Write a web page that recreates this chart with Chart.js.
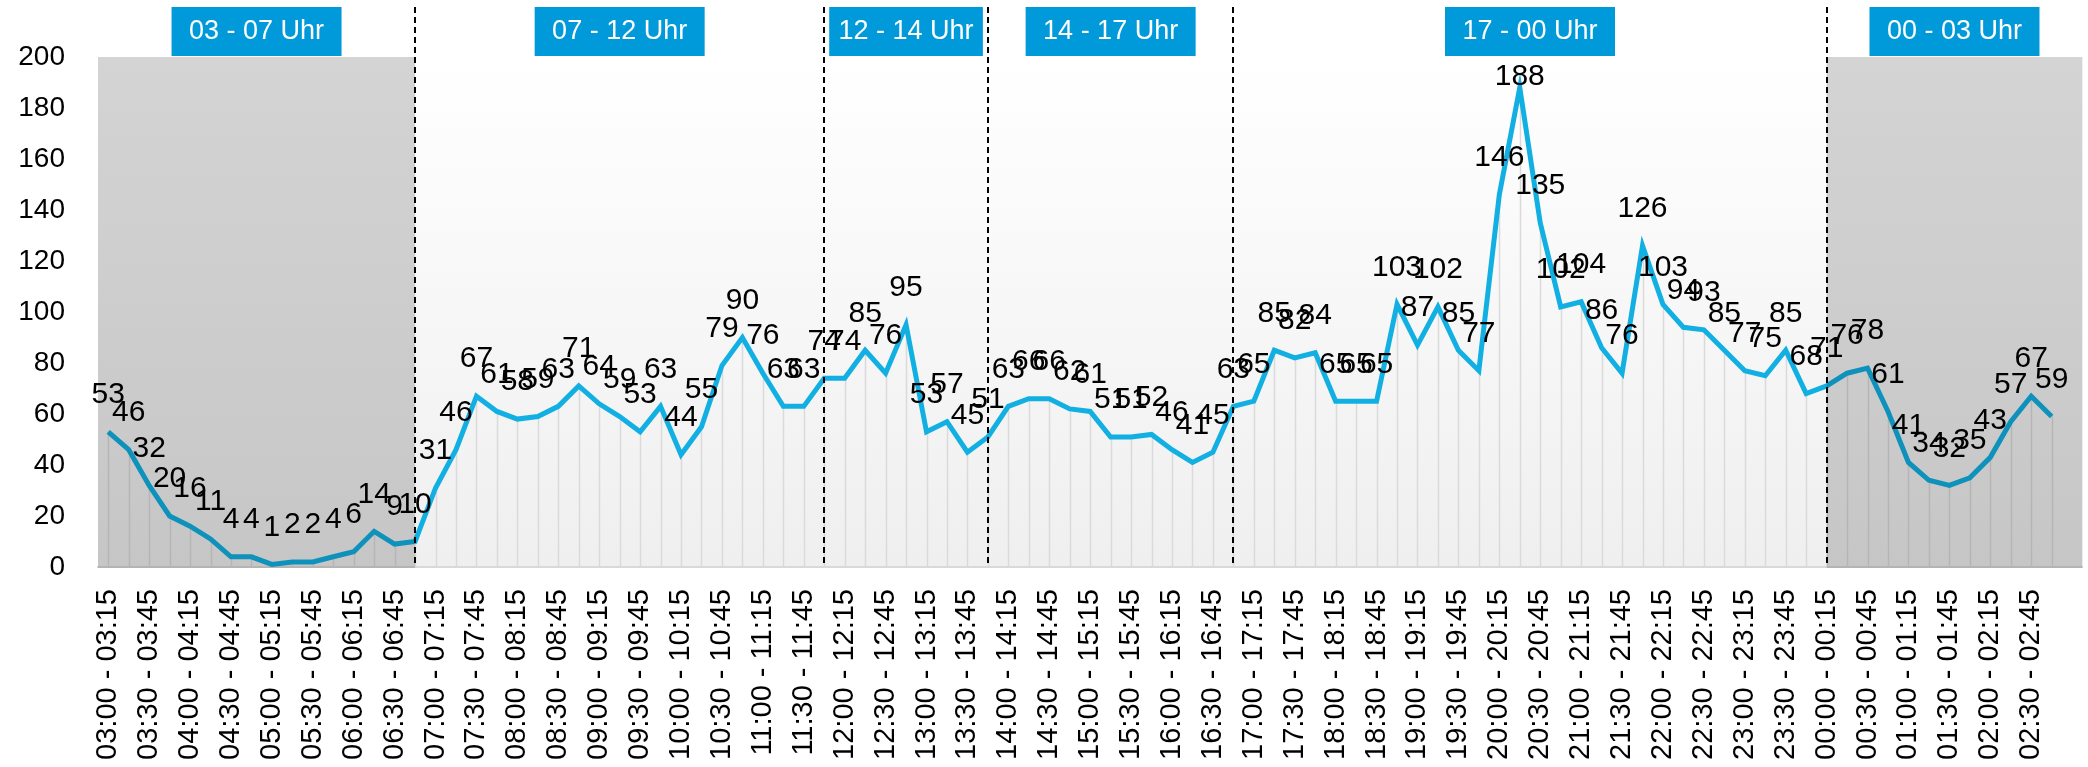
<!DOCTYPE html>
<html>
<head>
<meta charset="utf-8">
<script src="https://cdn.jsdelivr.net/npm/chart.js@4.4.1/dist/chart.umd.min.js"></script>
<style>
  html, body { margin: 0; padding: 0; background: #fff; }
  #wrap { width: 2088px; height: 767px; }
</style>
</head>
<body>
<div id="wrap"><canvas id="grafik" width="2088" height="767"></canvas></div>
<script>
// 15-Minuten-Intervalle von 03:00 bis 03:00
const zeitLabels = [
  "03:00 - 03:15", "03:15 - 03:30", "03:30 - 03:45", "03:45 - 04:00",
  "04:00 - 04:15", "04:15 - 04:30", "04:30 - 04:45", "04:45 - 05:00",
  "05:00 - 05:15", "05:15 - 05:30", "05:30 - 05:45", "05:45 - 06:00",
  "06:00 - 06:15", "06:15 - 06:30", "06:30 - 06:45", "06:45 - 07:00",
  "07:00 - 07:15", "07:15 - 07:30", "07:30 - 07:45", "07:45 - 08:00",
  "08:00 - 08:15", "08:15 - 08:30", "08:30 - 08:45", "08:45 - 09:00",
  "09:00 - 09:15", "09:15 - 09:30", "09:30 - 09:45", "09:45 - 10:00",
  "10:00 - 10:15", "10:15 - 10:30", "10:30 - 10:45", "10:45 - 11:00",
  "11:00 - 11:15", "11:15 - 11:30", "11:30 - 11:45", "11:45 - 12:00",
  "12:00 - 12:15", "12:15 - 12:30", "12:30 - 12:45", "12:45 - 13:00",
  "13:00 - 13:15", "13:15 - 13:30", "13:30 - 13:45", "13:45 - 14:00",
  "14:00 - 14:15", "14:15 - 14:30", "14:30 - 14:45", "14:45 - 15:00",
  "15:00 - 15:15", "15:15 - 15:30", "15:30 - 15:45", "15:45 - 16:00",
  "16:00 - 16:15", "16:15 - 16:30", "16:30 - 16:45", "16:45 - 17:00",
  "17:00 - 17:15", "17:15 - 17:30", "17:30 - 17:45", "17:45 - 18:00",
  "18:00 - 18:15", "18:15 - 18:30", "18:30 - 18:45", "18:45 - 19:00",
  "19:00 - 19:15", "19:15 - 19:30", "19:30 - 19:45", "19:45 - 20:00",
  "20:00 - 20:15", "20:15 - 20:30", "20:30 - 20:45", "20:45 - 21:00",
  "21:00 - 21:15", "21:15 - 21:30", "21:30 - 21:45", "21:45 - 22:00",
  "22:00 - 22:15", "22:15 - 22:30", "22:30 - 22:45", "22:45 - 23:00",
  "23:00 - 23:15", "23:15 - 23:30", "23:30 - 23:45", "23:45 - 00:00",
  "00:00 - 00:15", "00:15 - 00:30", "00:30 - 00:45", "00:45 - 01:00",
  "01:00 - 01:15", "01:15 - 01:30", "01:30 - 01:45", "01:45 - 02:00",
  "02:00 - 02:15", "02:15 - 02:30", "02:30 - 02:45", "02:45 - 03:00"
];

const werte = [
  53, 46, 32, 20, 16, 11, 4, 4, 1, 2, 2, 4, 6, 14, 9, 10,
  31, 46, 67, 61, 58, 59, 63, 71, 64, 59, 53, 63, 44, 55, 79, 90, 76, 63, 63, 74,
  74, 85, 76, 95, 53, 57, 45, 51,
  63, 66, 66, 62, 61, 51, 51, 52, 46, 41, 45, 63,
  65, 85, 82, 84, 65, 65, 65, 103, 87, 102, 85, 77, 146, 188, 135, 102, 104, 86,
  76, 126, 103, 94, 93, 85, 77, 75, 85, 68,
  71, 76, 78, 61, 41, 34, 32, 35, 43, 57, 67, 59
];

const zonenTitel = ["03 - 07 Uhr", "07 - 12 Uhr", "12 - 14 Uhr", "14 - 17 Uhr", "17 - 00 Uhr", "00 - 03 Uhr"];
const trennIndex = [15, 35, 43, 55, 84]; // gestrichelte Linien
const yTicks = [0, 20, 40, 60, 80, 100, 120, 140, 160, 180, 200];

const schrift = '"Liberation Sans", Arial, sans-serif';

const zonenPlugin = {
  id: 'zonen',
  beforeDraw(chart) {
    const { ctx, chartArea: a } = chart;
    const g = ctx.createLinearGradient(0, a.top, 0, a.bottom);
    g.addColorStop(0, '#ffffff');
    g.addColorStop(1, '#efefef');
    ctx.save();
    ctx.fillStyle = g;
    ctx.fillRect(a.left, a.top, a.right - a.left, a.bottom - a.top);
    ctx.restore();
  },
  beforeDatasetsDraw(chart) {
    // Lotlinien von jedem Punkt zur Achse
    const { ctx, chartArea: a } = chart;
    const meta = chart.getDatasetMeta(0);
    ctx.save();
    ctx.strokeStyle = '#dadada';
    ctx.lineWidth = 1.5;
    ctx.beginPath();
    meta.data.forEach(p => {
      ctx.moveTo(Math.round(p.x) + 0.5, p.y);
      ctx.lineTo(Math.round(p.x) + 0.5, a.bottom);
    });
    ctx.stroke();
    ctx.restore();
  },
  afterDatasetsDraw(chart) {
    const { ctx, chartArea: a, scales: { x } } = chart;
    const grenzen = [x.min, ...trennIndex, x.max];

    // graue Nachtbereiche
    ctx.save();
    ctx.fillStyle = 'rgba(0,0,0,0.17)';
    const x1 = x.getPixelForValue(trennIndex[0]);
    const x2 = x.getPixelForValue(trennIndex[trennIndex.length - 1]);
    ctx.fillRect(a.left, a.top, x1 - a.left, a.bottom - a.top + 1);
    ctx.fillRect(x2, a.top, a.right - x2, a.bottom - a.top + 1);

    // gestrichelte Trennlinien
    ctx.strokeStyle = '#000';
    ctx.lineWidth = 2;
    ctx.setLineDash([6, 4]);
    trennIndex.forEach(i => {
      const px = Math.round(x.getPixelForValue(i));
      ctx.beginPath();
      ctx.moveTo(px, 7);
      ctx.lineTo(px, a.bottom);
      ctx.stroke();
    });
    ctx.setLineDash([]);

    // Datenbeschriftungen
    const meta = chart.getDatasetMeta(0);
    ctx.fillStyle = '#000';
    ctx.font = '30px ' + schrift;
    ctx.textAlign = 'center';
    ctx.textBaseline = 'middle';
    meta.data.forEach((p, i) => {
      const ly = Math.max(p.y - 37, a.top + 20);
      ctx.fillText(String(werte[i]), p.x, ly);
    });

    // Überschriften der Zeitbereiche
    ctx.font = '27px ' + schrift;
    zonenTitel.forEach((t, i) => {
      const l = x.getPixelForValue(grenzen[i]);
      const r = x.getPixelForValue(grenzen[i + 1]);
      const w = Math.min(170, r - l - 10);
      const cx = (l + r) / 2;
      ctx.fillStyle = '#0099d9';
      ctx.fillRect(cx - w / 2, 7, w, 49);
      ctx.fillStyle = '#fff';
      ctx.fillText(t, cx, 32);
    });
    ctx.restore();
  }
};

new Chart(document.getElementById('grafik'), {
  type: 'line',
  data: {
    datasets: [{
      data: werte.map((v, i) => ({ x: i, y: v })),
      borderColor: '#12b0e2',
      borderWidth: 5,
      pointRadius: 0,
      tension: 0,
      fill: false
    }]
  },
  options: {
    responsive: false,
    animation: false,
    devicePixelRatio: 1,
    layout: { padding: { top: 57, left: 0, right: 0, bottom: 0 } },
    plugins: { legend: { display: false }, tooltip: { enabled: false } },
    scales: {
      x: {
        type: 'linear',
        min: -0.5,
        max: 96.5,
        grid: { display: false, drawTicks: false },
        border: { display: true, color: '#d9d9d9', width: 2 },
        afterBuildTicks: s => {
          s.ticks = zeitLabels.map((l, i) => ({ value: i })).filter(t => t.value % 2 === 0);
        },
        afterFit: s => { s.height = 200; },
        ticks: {
          autoSkip: false,
          minRotation: 90,
          maxRotation: 90,
          padding: 22,
          color: '#000',
          font: { family: schrift, size: 29 },
          callback: v => zeitLabels[v] ?? ''
        }
      },
      y: {
        min: 0,
        max: 200,
        grid: { display: false, drawTicks: false },
        border: { display: false },
        afterBuildTicks: s => { s.ticks = yTicks.map(v => ({ value: v })); },
        afterFit: s => { s.width = 98; },
        ticks: {
          padding: 33,
          color: '#000',
          font: { family: schrift, size: 28 }
        }
      }
    }
  },
  plugins: [zonenPlugin]
});
</script>
</body>
</html>
